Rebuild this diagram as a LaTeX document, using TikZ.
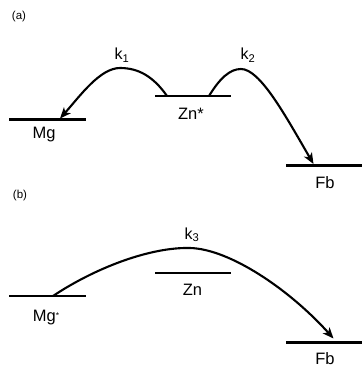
\documentclass[tikz,border=0pt]{standalone}
\usepackage{fontspec}
\setmainfont{Liberation Sans}
\usetikzlibrary{arrows.meta}
\begin{document}
\begin{tikzpicture}[x=1pt,y=-1pt,
  level/.style={line width=2.1pt},
  trans/.style={line width=2.1pt,-{Stealth[length=11pt,width=9pt,inset=3pt]}},
  lbl/.style={font=\fontsize{16.5}{19}\selectfont,anchor=base,inner sep=0pt},
  klbl/.style={font=\fontsize{16}{19}\selectfont,anchor=base,inner sep=0pt},
  panel/.style={font=\fontsize{11.5}{13}\selectfont,inner sep=0pt}]
\useasboundingbox (0,0) rectangle (362,366);
% panel (a)
\node[panel] (pa) at (19,17) {(a)};
\coordinate (mgL) at (9,119.5); \coordinate (mgR) at (86,119.5);
\coordinate (znL) at (155,96); \coordinate (znR) at (231,96);
\coordinate (fbL) at (286,165.5); \coordinate (fbR) at (362,165.5);
\draw[level] (mgL) -- (mgR);
\draw[level] (znL) -- (znR);
\draw[level] (fbL) -- (fbR);
\node[lbl] (mg) at (44,139) {Mg};
\node[lbl] (zns) at (191,120) {Zn*};
\node[lbl] (fba) at (325,188) {Fb};
\node[klbl] (k1) at (122,60) {k\textsubscript{1}};
\node[klbl] (k2) at (248,60) {k\textsubscript{2}};
\coordinate (a1s) at (167,96); \coordinate (a1p) at (120,68); \coordinate (a1e) at (60,118.5);
\coordinate (a2s) at (209,96); \coordinate (a2p) at (241,69); \coordinate (a2e) at (313.5,164);
\draw[trans] (a1s) .. controls (153,76) and (138,68) .. (a1p)
  .. controls (100,68) and (80,96) .. (a1e);
\draw[trans] (a2s) .. controls (220,78) and (230,69) .. (a2p)
  .. controls (260,69) and (285,115) .. (a2e);
% panel (b)
\node[panel] (pb) at (20,195.5) {(b)};
\coordinate (mgsL) at (9,296); \coordinate (mgsR) at (86,296);
\coordinate (znbL) at (155,273); \coordinate (znbR) at (231,273);
\coordinate (fbbL) at (286,342.5); \coordinate (fbbR) at (362,342.5);
\draw[level] (mgsL) -- (mgsR);
\draw[level] (znbL) -- (znbR);
\draw[level] (fbbL) -- (fbbR);
\node[lbl] (mgs) at (46,321) {Mg\raisebox{2.5pt}{\fontsize{8.5}{9}\selectfont *}};
\node[lbl] (znb) at (192.5,295) {Zn};
\node[lbl] (fbb) at (325,364) {Fb};
\node[klbl] (k3) at (192,239) {k\textsubscript{3}};
\coordinate (a3s) at (53,296); \coordinate (a3p) at (190,248); \coordinate (a3e) at (333.5,338.5);
\draw[trans] (a3s) .. controls (95,268) and (150,247) .. (a3p)
  .. controls (230,249) and (290,290) .. (a3e);
\end{tikzpicture}
\end{document}
